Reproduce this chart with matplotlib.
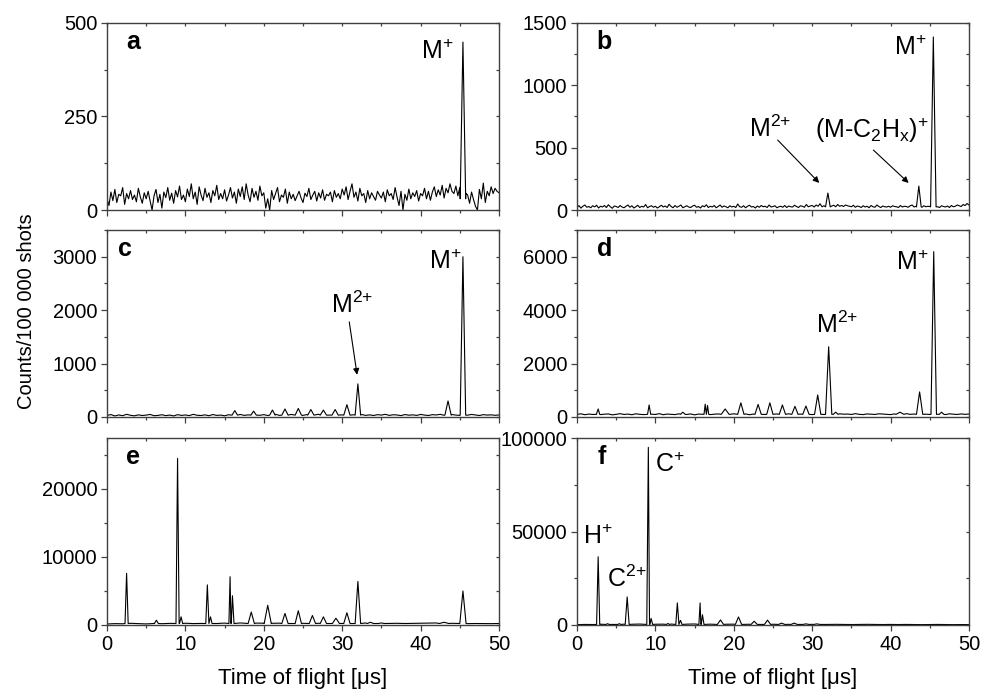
import numpy as np
import matplotlib
matplotlib.use("Agg")
import matplotlib.pyplot as plt
from matplotlib.ticker import MultipleLocator

plt.rcParams['font.family'] = ['Liberation Sans', 'DejaVu Sans']
plt.rcParams['mathtext.fontset'] = 'custom'
plt.rcParams['mathtext.rm'] = 'Liberation Sans'
plt.rcParams['mathtext.it'] = 'Liberation Sans:italic'

# baseline counts, sampled evenly from 0 to 50 us
a_noise = [30, 12, 48, 25, 55, 20, 42, 38, 60, 15, 44, 30, 52, 28, 40, 22, 58, 35, 18, 46,
           30, 50, 24, 0, 38, 55, 20, 42, 5, 48, 33, 60, 26, 45, 18, 52, 35, 64, 28, 40,
           22, 56, 36, 70, 30, 48, 15, 62, 40, 25, 58, 34, 46, 20, 52, 38, 66, 28, 44, 30,
           54, 24, 40, 60, 32, 48, 18, 56, 36, 62, 28, 70, 40, 22, 58, 34, 50, 26, 64, 38,
           46, 5, 30, 0, 52, 28, 44, 60, 22, 40, 34, 56, 18, 48, 30, 42, 25, 38, 50, 32,
           20, 45, 36, 58, 28, 40, 50, 24, 46, 32, 54, 26, 42, 38, 48, 22, 52, 34, 44, 30,
           56, 40, 62, 28, 50, 70, 34, 48, 24, 58, 38, 44, 20, 52, 30, 46, 36, 26, 50, 40,
           32, 48, 22, 54, 38, 44, 28, 60, 34, 12, 50, 0, 42, 26, 56, 30, 46, 36, 52, 24,
           44, 38, 58, 30, 50, 26, 48, 62, 36, 54, 40, 66, 32, 58, 46, 70, 50, 44, 64, 38,
           60, 55, 70, 45, 40, 18, 48, 28, 10, 0, 55, 30, 72, 20, 50, 38, 62, 44, 58, 50,
           46]
b_noise = [20, 35, 15, 30, 40, 22, 28, 18, 34, 25, 38, 16, 30, 24, 36, 20, 42, 26, 14, 32,
           28, 20, 36, 24, 18, 30, 40, 22, 34, 16, 26, 38, 20, 30, 24, 44, 18, 28, 34, 22,
           30, 16, 26, 38, 24, 32, 20, 46, 28, 18, 36, 22, 30, 40, 18, 26, 34, 24, 20, 32,
           38, 22, 28, 16, 34, 26, 42, 20, 30, 24, 36, 18, 28, 40, 22, 32, 26, 18, 34, 24,
           30, 20, 48, 26, 22, 34, 18, 30, 38, 24, 28, 16, 32, 22, 36, 26, 30, 20, 40, 24,
           28, 34, 18, 26, 30, 22, 36, 20, 32, 26, 24, 38, 28, 20, 34, 30, 22, 44, 26, 32,
           36, 24, 40, 30, 50, 26, 34, 42, 28, 48, 32, 38, 26, 44, 30, 36, 28, 40, 34, 30,
           26, 38, 22, 32, 28, 20, 34, 24, 30, 18, 36, 26, 22, 40, 28, 20, 32, 26, 24, 30,
           22, 34, 28, 26, 20, 36, 24, 30, 28, 22, 34, 40, 24, 30, 36, 28, 22, 34, 26, 30,
           28, 36, 22, 30, 26, 20, 34, 28, 24, 32, 20, 36, 26, 30, 40, 34, 28, 44, 36, 52,
           40]
c_noise = [30, 45, 20, 38, 25, 50, 32, 22, 40, 28, 35, 48, 24, 30, 42, 26, 36, 20, 44, 30,
           38, 26, 50, 32, 28, 40, 24, 46, 30, 36, 22, 42, 34, 28, 48, 30, 40, 26, 38, 32,
           44, 28, 36, 50, 30, 42, 26, 48, 34, 40, 30, 46, 28, 38, 52, 32, 44, 36, 30, 48,
           40, 34, 50, 42, 36, 46, 30, 40, 28, 44, 36, 50, 30, 42, 38, 26, 46, 34, 40, 30,
           48, 36, 28, 44, 38, 50, 32, 40, 46, 36, 30, 42, 34, 48, 38, 28, 44, 36, 40, 32,
           38]
d_noise = [100, 120, 85, 110, 95, 130, 90, 105, 115, 80, 100, 125, 95, 110, 85, 120, 100, 90, 115, 105,
           95, 125, 85, 110, 100, 90, 120, 105, 95, 115, 80, 110, 100, 125, 90, 105, 115, 95, 110, 100,
           120, 90, 105, 115, 85, 110, 100, 125, 95, 105, 90, 115, 100, 85, 120, 105, 95, 110, 100, 125,
           90, 105, 115, 95, 130, 100, 90, 120, 105, 110, 95, 125, 100, 90, 115, 105, 95, 120, 110, 100,
           90, 115, 105, 95, 125, 100, 110, 90, 120, 105, 95, 115, 100, 110, 90, 120, 105, 95, 115, 100,
           110]
e_noise = [150, 200, 180, 250, 200, 160, 220, 190, 240, 200, 260, 210, 230, 250, 220, 280, 260,
           300, 240, 280, 260, 250, 270, 240, 260, 250, 230, 260, 240, 250, 230, 260, 280, 300,
           250, 240, 230, 250, 220, 240, 260, 280, 300, 350, 250, 230, 200, 220, 210, 200, 220]
f_noise = [200, 300, 250, 400, 350, 300, 450, 400, 500, 350, 400, 450, 500, 400, 450, 550, 500,
           450, 500, 400, 450, 500, 400, 450, 350, 400, 450, 350, 400, 300, 350, 400, 300, 350,
           300, 250, 300, 350, 300, 250, 300, 250, 300, 250, 200, 250, 300, 250, 200, 250, 200]

# peak positions [us], heights [counts] and half widths [us]
a_peak_t = [45.4]
a_peak_h = [449]
a_peak_w = [0.35]

b_peak_t = [32.0, 43.6, 45.45]
b_peak_h = [136, 192, 1388]
b_peak_w = [0.3, 0.3, 0.35]

c_peak_t = [16.3, 18.7, 21.1, 22.7, 24.4, 26.0, 27.6, 29.1, 30.6, 32.0, 43.5, 45.4]
c_peak_h = [120, 110, 130, 150, 160, 140, 130, 140, 230, 620, 300, 3000]
c_peak_w = [0.35, 0.35, 0.35, 0.4, 0.4, 0.4, 0.4, 0.4, 0.4, 0.35, 0.4, 0.35]

d_peak_t = [2.7, 9.2, 13.5, 16.35, 16.65, 18.9, 20.9, 23.1, 24.6, 26.2, 27.8, 29.2, 30.7,
            32.1, 33.0, 41.2, 43.7, 45.5, 46.5]
d_peak_h = [300, 450, 180, 480, 430, 300, 530, 470, 530, 450, 400, 410, 825,
            2630, 180, 180, 940, 6190, 180]
d_peak_w = [0.2, 0.2, 0.3, 0.15, 0.15, 0.5, 0.4, 0.4, 0.4, 0.4, 0.4, 0.4, 0.4,
            0.4, 0.3, 0.5, 0.4, 0.35, 0.3]

e_peak_t = [2.5, 6.3, 9.0, 9.45, 12.8, 13.2, 15.7, 16.0, 18.4, 20.5, 22.7, 24.4, 26.2,
            27.6, 29.2, 30.6, 32.0, 33.6, 35.0, 43.0, 45.4]
e_peak_h = [7600, 700, 24500, 1200, 5900, 1200, 7100, 4300, 1900, 2900, 1700, 2100, 1400,
            1200, 1000, 1800, 6400, 400, 300, 400, 5000]
e_peak_w = [0.2, 0.25, 0.2, 0.2, 0.2, 0.2, 0.15, 0.2, 0.4, 0.45, 0.4, 0.4, 0.4,
            0.4, 0.45, 0.4, 0.35, 0.4, 0.4, 0.6, 0.4]

f_peak_t = [2.7, 3.9, 5.4, 6.4, 9.1, 9.45, 11.6, 12.8, 13.2, 15.7, 16.0, 18.3, 20.6,
            22.6, 24.3, 26.1, 27.7, 29.2, 30.6]
f_peak_h = [36500, 700, 700, 15000, 95000, 3500, 800, 11800, 2500, 11800, 5500, 2700, 4300,
            2000, 2600, 1000, 1000, 600, 600]
f_peak_w = [0.2, 0.2, 0.2, 0.25, 0.2, 0.2, 0.2, 0.2, 0.2, 0.15, 0.2, 0.4, 0.4,
            0.4, 0.4, 0.4, 0.4, 0.4, 0.4]

# level the peak flanks return to
floors = {'a': 30, 'b': 25, 'c': 35, 'd': 100, 'e': 220, 'f': 300}

y_limits = {'a': 500, 'b': 1500, 'c': 3500, 'd': 7000, 'e': 27500, 'f': 100000}
y_major = {'a': 250, 'b': 500, 'c': 1000, 'd': 2000, 'e': 10000, 'f': 50000}
y_minor = {'a': 125, 'b': 250, 'c': 500, 'd': 1000, 'e': 5000, 'f': 25000}


def build_trace(noise, peak_t, peak_h, peak_w, floor):
    t = np.linspace(0, 50, len(noise))
    y = np.asarray(noise, dtype=float)
    keep = np.ones(len(t), dtype=bool)
    for pt, pw in zip(peak_t, peak_w):
        keep &= np.abs(t - pt) > pw
    pts = list(zip(t[keep], y[keep]))
    for pt, ph, pw in zip(peak_t, peak_h, peak_w):
        pts += [(pt - pw, floor), (pt, ph), (pt + pw, floor)]
    pts.sort()
    arr = np.array(pts)
    return arr[:, 0], arr[:, 1]


fig = plt.figure(figsize=(9.81, 6.91), dpi=100)

W, H = 981.0, 691.0
col_left = [107, 577]
row_bottom = [210, 417, 625]
ax_w, ax_h = 392, 187

panels = [
    ('a', a_noise, a_peak_t, a_peak_h, a_peak_w),
    ('b', b_noise, b_peak_t, b_peak_h, b_peak_w),
    ('c', c_noise, c_peak_t, c_peak_h, c_peak_w),
    ('d', d_noise, d_peak_t, d_peak_h, d_peak_w),
    ('e', e_noise, e_peak_t, e_peak_h, e_peak_w),
    ('f', f_noise, f_peak_t, f_peak_h, f_peak_w),
]
letter_x = {'a': 0.066, 'b': 0.069, 'c': 0.046, 'd': 0.071, 'e': 0.066, 'f': 0.064}

axes = {}
for i, (key, noise, pt, ph, pw) in enumerate(panels):
    r, c = divmod(i, 2)
    rect = [col_left[c] / W, 1 - row_bottom[r] / H, ax_w / W, ax_h / H]
    ax = fig.add_axes(rect)
    axes[key] = ax
    t, y = build_trace(noise, pt, ph, pw, floors[key])
    ax.plot(t, y, color='black', lw=0.8)
    ax.set_xlim(0, 50)
    ax.set_ylim(0, y_limits[key])
    ax.xaxis.set_major_locator(MultipleLocator(10))
    ax.xaxis.set_minor_locator(MultipleLocator(5))
    ax.yaxis.set_major_locator(MultipleLocator(y_major[key]))
    ax.yaxis.set_minor_locator(MultipleLocator(y_minor[key]))
    for sp in ax.spines.values():
        sp.set_color('#404040')
        sp.set_linewidth(1.0)
    ax.tick_params(which='both', direction='out', labelsize=14.5, pad=3,
                   color='#404040', width=0.9)
    ax.tick_params(which='major', length=4)
    ax.tick_params(which='minor', length=2.5)
    if r < 2:
        ax.tick_params(axis='x', labelbottom=False)
    # mirrored inward ticks on top and right
    top = ax.secondary_xaxis('top')
    top.xaxis.set_major_locator(MultipleLocator(10))
    top.xaxis.set_minor_locator(MultipleLocator(5))
    top.tick_params(which='both', direction='in', labeltop=False,
                    color='#404040', width=0.9, length=2.5)
    top.spines['top'].set_visible(False)
    right = ax.secondary_yaxis('right')
    right.yaxis.set_major_locator(MultipleLocator(y_major[key]))
    right.yaxis.set_minor_locator(MultipleLocator(y_minor[key]))
    right.tick_params(which='both', direction='in', labelright=False,
                      color='#404040', width=0.9, length=2.5)
    right.spines['right'].set_visible(False)
    ax.text(letter_x[key], 0.90, key, transform=ax.transAxes, fontsize=18,
            fontweight='bold', ha='center', va='center')
    if r == 2:
        ax.set_xlabel('Time of flight [μs]', fontsize=16, labelpad=10)

ann = dict(fontsize=18, ha='center', va='center')
arrow = dict(arrowstyle='-|>', color='black', lw=0.8, mutation_scale=9,
             shrinkA=0, shrinkB=0)

axes['a'].text(42.1, 422, r'M$^{+}$', **ann)

axes['b'].text(42.5, 1300, r'M$^{+}$', **ann)
axes['b'].text(24.6, 650, r'M$^{2{+}}$', **ann)
axes['b'].annotate('', xy=(30.9, 217), xytext=(25.6, 561), arrowprops=arrow)
axes['b'].text(37.6, 640, r'(M-C$_{2}$H$_{\mathrm{x}}$)$^{+}$', **ann)
axes['b'].annotate('', xy=(42.3, 217), xytext=(37.8, 481), arrowprops=arrow)

axes['c'].text(43.1, 2900, r'M$^{+}$', **ann)
axes['c'].text(31.3, 2100, r'M$^{2{+}}$', **ann)
axes['c'].annotate('', xy=(31.9, 790), xytext=(30.9, 1780), arrowprops=arrow)

axes['d'].text(42.7, 5780, r'M$^{+}$', **ann)
axes['d'].text(33.2, 3450, r'M$^{2{+}}$', **ann)

axes['f'].text(2.6, 47300, r'H$^{+}$', **ann)
axes['f'].text(6.3, 24700, r'C$^{2{+}}$', **ann)
axes['f'].text(11.9, 85500, r'C$^{+}$', **ann)

fig.text(27 / W, 1 - 311 / H, 'Counts/100 000 shots', rotation=90,
         fontsize=14.5, ha='center', va='center')

fig.savefig('out.png', dpi=100)
